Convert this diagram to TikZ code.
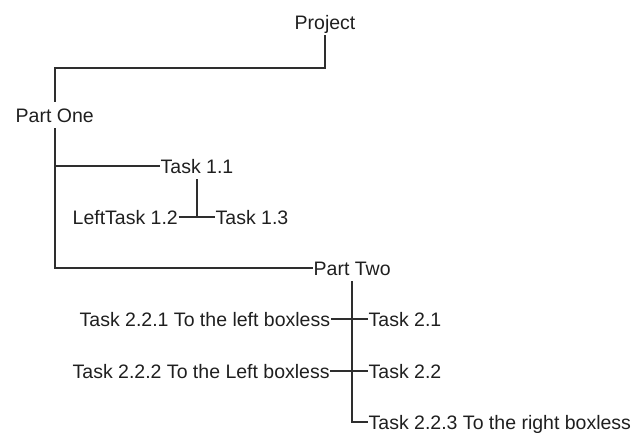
\documentclass[tikz,border=0pt]{standalone}
\usepackage{fontspec}
\setmainfont{Liberation Sans}
\begin{document}
\begin{tikzpicture}[x=1pt,y=-1pt,
  lbl/.style={anchor=base west,inner xsep=0.5pt,inner ysep=6pt,text height=14pt,text depth=0pt,
    font=\fontsize{19.5}{22}\selectfont,text=black!88},
  conn/.style={line width=1.7pt,draw=black!82}]
\useasboundingbox (0,0) rectangle (637,432);
\node[lbl] (proj) at (294,29) {Project};
\node[lbl] (p1) at (15,122) {Part One};
\node[lbl] (t11) at (160,173) {Task 1.1};
\node[lbl] (t12) at (72,224) {LeftTask 1.2};
\node[lbl] (t13) at (215,224) {Task 1.3};
\node[lbl] (p2) at (313,275) {Part Two};
\node[lbl] (t221) at (79,326) {Task 2.2.1 To the left boxless};
\node[lbl] (t21) at (368,326) {Task 2.1};
\node[lbl] (t222) at (72,378) {Task 2.2.2 To the Left boxless};
\node[lbl] (t22) at (368,378) {Task 2.2};
\node[lbl] (t223) at (368,429) {Task 2.2.3 To the right boxless};
\coordinate (c1) at (0,68);
\draw[conn] (proj.south) -- (proj.south |- c1) -| (p1.north);
\draw[conn] (p1.south) |- (p2.west);
\draw[conn] (p1.south |- t11.west) -- (t11.west);
\draw[conn] (t11.south) -- (t11.south |- t13.west);
\draw[conn] (t12.east) -- (t13.west);
\draw[conn] (p2.south) |- (t223.west);
\draw[conn] (t221.east) -- (t21.west);
\draw[conn] (t222.east) -- (t22.west);
\end{tikzpicture}
\end{document}
